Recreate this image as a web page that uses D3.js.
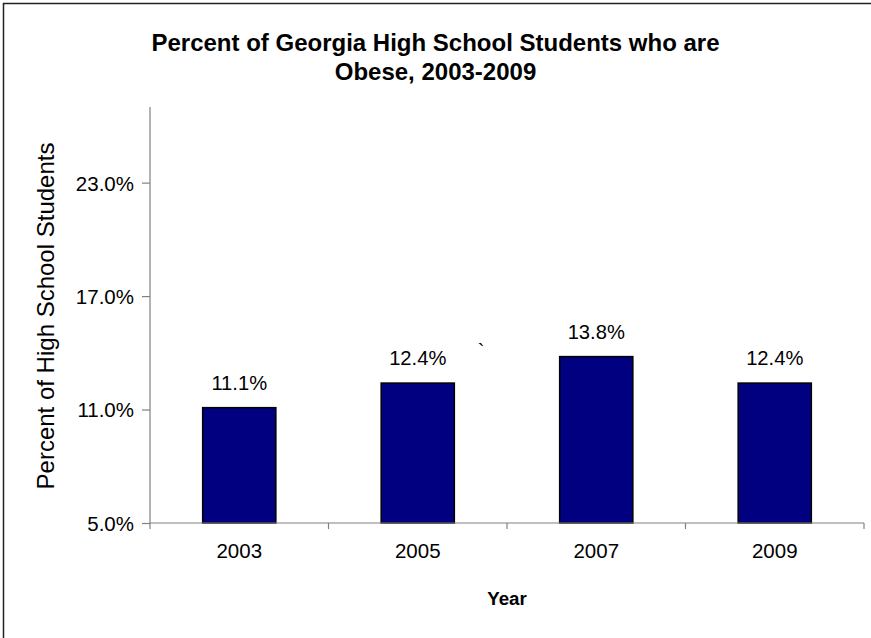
<!DOCTYPE html>
<html>
<head>
<meta charset="utf-8">
<script src="https://cdn.jsdelivr.net/npm/d3@7"></script>
<style>
  html, body { margin: 0; padding: 0; background: #fff; }
  svg { display: block; }
  text { font-family: "Liberation Sans", Arial, Helvetica, sans-serif; fill: #000; }
</style>
</head>
<body>
<svg id="chart" width="871" height="638"></svg>
<script>
// Survey years and share of high school students who are obese (%)
const years = ["2003", "2005", "2007", "2009"];
const obesePct = [11.1, 12.4, 13.8, 12.4];
const yTicks = [5, 11, 17, 23];

const titleLines = ["Percent of Georgia High School Students who are", "Obese, 2003-2009"];
const xTitle = "Year";
const yTitle = "Percent of High School Students";

const W = 871, H = 638;
const margin = { top: 107, right: 7, bottom: 115, left: 150 };

const svg = d3.select("#chart");

// Chart frame (right and bottom edges fall outside the page)
svg.append("rect")
  .attr("x", 3.5).attr("y", 3.5)
  .attr("width", W + 10).attr("height", H + 10)
  .attr("fill", "none")
  .attr("stroke", "#222")
  .attr("stroke-width", 1.5);

const x = d3.scaleBand()
  .domain(years)
  .range([margin.left, W - margin.right])
  .paddingInner(0.59)
  .paddingOuter(0.295);

const y = d3.scaleLinear()
  .domain([5, 27])
  .range([H - margin.bottom, margin.top]);

// Bars
svg.append("g")
  .selectAll("rect")
  .data(obesePct)
  .join("rect")
  .attr("x", (d, i) => x(years[i]))
  .attr("y", d => y(d))
  .attr("width", x.bandwidth())
  .attr("height", d => y(5) - y(d))
  .attr("fill", "#000080")
  .attr("stroke", "#000")
  .attr("stroke-width", 1.5);

// Y axis
const yAxis = svg.append("g")
  .attr("transform", `translate(${margin.left},0)`)
  .call(d3.axisLeft(y).tickValues(yTicks).tickSize(8).tickPadding(8)
    .tickFormat(d => d3.format(".1f")(d) + "%"));
yAxis.select(".domain").attr("stroke", "#808080").attr("stroke-width", 1.2)
  .attr("d", `M0,${y(27)}V${y(5)}`);
yAxis.selectAll(".tick line").attr("stroke", "#808080").attr("stroke-width", 1.2);
yAxis.selectAll(".tick text")
  .attr("font-size", 20.5)
  .attr("font-family", "'Liberation Sans', Arial, sans-serif")
  .attr("fill", "#000")
  .attr("dy", "0.36em");

// X axis: ticks sit on category boundaries
const xAxisG = svg.append("g")
  .attr("transform", `translate(0,${y(5)})`);
const step = x.step();
const bounds = d3.range(years.length + 1).map(i => margin.left + i * step);
xAxisG.append("line")
  .attr("x1", margin.left).attr("x2", W - margin.right)
  .attr("y1", 0).attr("y2", 0)
  .attr("stroke", "#808080").attr("stroke-width", 1.2);
xAxisG.selectAll("line.tk")
  .data(bounds)
  .join("line")
  .attr("class", "tk")
  .attr("x1", d => d).attr("x2", d => d)
  .attr("y1", 0).attr("y2", 6)
  .attr("stroke", "#808080").attr("stroke-width", 1.2);
xAxisG.selectAll("text.lbl")
  .data(years)
  .join("text")
  .attr("class", "lbl")
  .attr("x", d => x(d) + x.bandwidth() / 2)
  .attr("y", 35)
  .attr("text-anchor", "middle")
  .attr("font-size", 20.5)
  .text(d => d);

// Value labels above bars
svg.append("g")
  .selectAll("text")
  .data(obesePct)
  .join("text")
  .attr("x", (d, i) => x(years[i]) + x.bandwidth() / 2)
  .attr("y", d => y(d) - 18)
  .attr("text-anchor", "middle")
  .attr("font-size", 20.2)
  .text(d => d3.format(".1f")(d) + "%");

// Stray grave accent left in the plot area
svg.append("text")
  .attr("x", 481).attr("y", 358)
  .attr("text-anchor", "middle")
  .attr("font-size", 20)
  .text("`");

// Title
svg.append("g")
  .selectAll("text")
  .data(titleLines)
  .join("text")
  .attr("x", W / 2)
  .attr("y", (d, i) => 51 + i * 29)
  .attr("text-anchor", "middle")
  .attr("font-size", 24)
  .attr("font-weight", "bold")
  .text(d => d);

// Axis titles
svg.append("text")
  .attr("x", (margin.left + W - margin.right) / 2)
  .attr("y", 605)
  .attr("text-anchor", "middle")
  .attr("font-size", 18.7)
  .attr("font-weight", "bold")
  .text(xTitle);

svg.append("text")
  .attr("transform", "translate(54,316) rotate(-90)")
  .attr("text-anchor", "middle")
  .attr("font-size", 24)
  .text(yTitle);
</script>
</body>
</html>
